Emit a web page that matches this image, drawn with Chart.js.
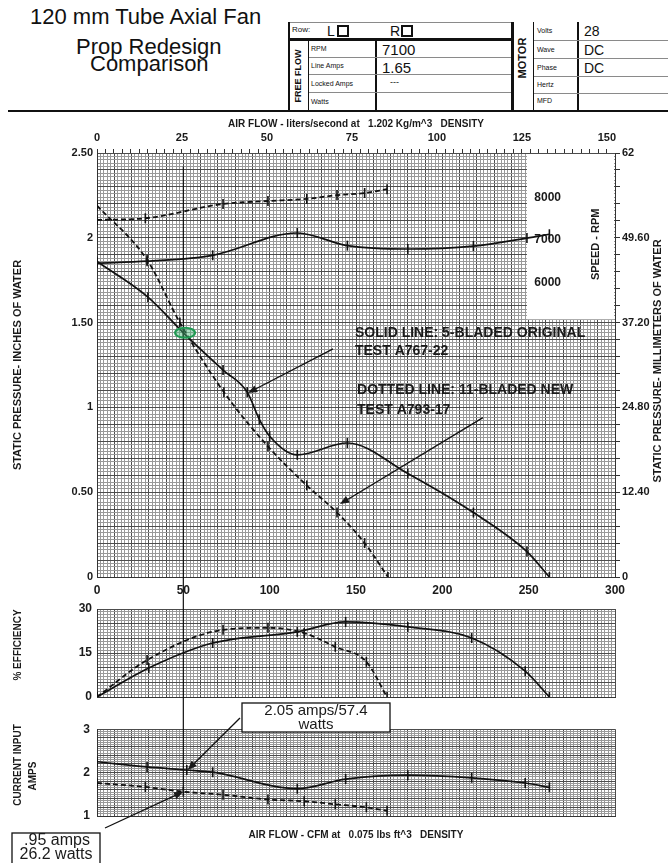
<!DOCTYPE html>
<html>
<head>
<meta charset="utf-8">
<script src="https://cdn.jsdelivr.net/npm/chart.js@4.4.1/dist/chart.umd.min.js"></script>
<style>
body{margin:0;background:#fff;font-family:"Liberation Sans",Arial,sans-serif;color:#111}
#page{position:relative;width:668px;height:863px;overflow:hidden;background:#fff}
canvas{position:absolute;left:0}
.t{position:absolute;white-space:nowrap;line-height:1}
.ln{position:absolute;background:#111}
.lt{position:absolute;background:#8a8a8a}
.rot{position:absolute;white-space:nowrap;line-height:1;transform:translate(-50%,-50%) rotate(-90deg);font-weight:bold}
.sq{position:absolute;width:8px;height:8px;border:2px solid #111}
</style>
</head>
<body>
<div id="page">

  <!-- title block -->
  <div class="t" style="left:30px;top:6px;font-size:22px">120 mm Tube Axial Fan</div>
  <div class="t" style="left:76px;top:36px;font-size:22px">Prop Redesign</div>
  <div class="t" style="left:90px;top:53px;font-size:22px">Comparison</div>

  <!-- data table -->
  <div class="lt" style="left:288px;top:22px;width:224px;height:1px"></div>
  <div class="ln" style="left:288px;top:38px;width:224px;height:3px"></div>
  <div class="ln" style="left:288px;top:22px;width:2px;height:89px"></div>
  <div class="ln" style="left:308px;top:40px;width:1px;height:71px"></div>
  <div class="ln" style="left:375px;top:40px;width:2px;height:71px"></div>
  <div class="lt" style="left:309px;top:57px;width:203px;height:1px"></div>
  <div class="lt" style="left:309px;top:74px;width:203px;height:1px"></div>
  <div class="lt" style="left:309px;top:92px;width:203px;height:1px"></div>
  <div class="ln" style="left:511px;top:22px;width:3px;height:89px"></div>
  <div class="ln" style="left:533px;top:22px;width:1px;height:89px"></div>
  <div class="ln" style="left:577px;top:22px;width:2px;height:89px"></div>
  <div class="lt" style="left:534px;top:40px;width:134px;height:1px"></div>
  <div class="lt" style="left:534px;top:58px;width:134px;height:1px"></div>
  <div class="lt" style="left:534px;top:76px;width:134px;height:1px"></div>
  <div class="lt" style="left:534px;top:93px;width:134px;height:1px"></div>
  <div class="ln" style="left:8px;top:110px;width:660px;height:2px"></div>

  <div class="t" style="left:292px;top:26px;font-size:8px">Row:</div>
  <div class="t" style="left:327px;top:24px;font-size:14px">L</div>
  <div class="sq" style="left:337px;top:25px"></div>
  <div class="t" style="left:390px;top:24px;font-size:14px">R</div>
  <div class="sq" style="left:401px;top:25px"></div>
  <div class="rot" style="left:298px;top:76px;font-size:9px">FREE FLOW</div>
  <div class="t" style="left:311px;top:45px;font-size:7px">RPM</div>
  <div class="t" style="left:311px;top:62px;font-size:7px">Line Amps</div>
  <div class="t" style="left:311px;top:80px;font-size:7px">Locked Amps</div>
  <div class="t" style="left:311px;top:98px;font-size:7px">Watts</div>
  <div class="t" style="left:382px;top:42px;font-size:15px">7100</div>
  <div class="t" style="left:382px;top:60px;font-size:15px">1.65</div>
  <div class="t" style="left:390px;top:78px;font-size:9px">---</div>

  <div class="rot" style="left:522px;top:58px;font-size:11px">MOTOR</div>
  <div class="t" style="left:537px;top:27px;font-size:7px">Volts</div>
  <div class="t" style="left:537px;top:46px;font-size:7px">Wave</div>
  <div class="t" style="left:537px;top:64px;font-size:7px">Phase</div>
  <div class="t" style="left:537px;top:81px;font-size:7px">Hertz</div>
  <div class="t" style="left:537px;top:97px;font-size:7px">MFD</div>
  <div class="t" style="left:584px;top:24px;font-size:14px">28</div>
  <div class="t" style="left:584px;top:43px;font-size:14px">DC</div>
  <div class="t" style="left:584px;top:61px;font-size:14px">DC</div>

  <canvas id="effChart" width="668" height="120" style="top:590px"></canvas>
  <canvas id="ampChart" width="668" height="120" style="top:715px"></canvas>
  <canvas id="mainChart" width="668" height="752" style="top:111px"></canvas>
</div>

<script>
/* =========================
   DATA
========================= */
// static pressure, inches of water
const origPressCfm = [0, 29.5, 50, 73, 87, 94, 100, 116, 145, 180, 218, 249, 262]
const origPressIn  = [1.86, 1.65, 1.44, 1.22, 1.09, 0.93, 0.83, 0.72, 0.79, 0.61, 0.38, 0.15, 0]
const newPressCfm  = [0, 29, 48, 73.5, 99, 121.5, 139, 155, 168.5]
const newPressIn   = [2.19, 1.87, 1.50, 1.09, 0.77, 0.54, 0.38, 0.20, 0]

// fan speed, rpm
const origRpmCfm = [0, 29, 67, 116, 145, 180, 218, 249, 262]
const origRpm    = [6450, 6500, 6640, 7170, 6870, 6790, 6860, 7050, 7140]
const newRpmCfm  = [0, 28, 73, 99, 121.5, 139, 155, 168]
const newRpm     = [7480, 7520, 7860, 7930, 7980, 8070, 8120, 8210]

// efficiency, %
const origEffCfm = [0, 30, 67, 116, 144, 180, 217, 248, 262]
const origEff    = [0, 9.9, 18.4, 22.2, 25.6, 23.9, 20.1, 8.8, 0]
const newEffCfm  = [0, 29, 73, 99, 120, 138, 156, 168]
const newEff     = [0, 12.6, 22.9, 23.6, 21.8, 17.1, 12, 0]

// current input, amps
const origAmpCfm = [0, 29, 52, 67, 116, 144, 180, 217, 248, 262]
const origAmps   = [2.25, 2.13, 2.06, 2.01, 1.63, 1.85, 1.94, 1.88, 1.76, 1.66]
const newAmpCfm  = [0, 28, 50, 73, 99, 120, 138, 156, 168]
const newAmps    = [1.76, 1.67, 1.56, 1.49, 1.38, 1.34, 1.27, 1.2, 1.12]

// tick labels
const cfmLabels  = [0, 50, 100, 150, 200, 250, 300]
const lpsLabels  = [0, 25, 50, 75, 100, 125, 150]
const inchLabels = [0, 0.5, 1, 1.5, 2, 2.5]
const mmLabels   = [0, 12.4, 24.8, 37.2, 49.6, 62]
const rpmLabels  = [6000, 7000, 8000]
const effLabels  = [0, 15, 30]
const ampLabels  = [1, 2, 3]

/* =========================
   HELPERS
========================= */
const FONT = '"Liberation Sans", Arial, sans-serif'
Chart.defaults.font.family = FONT
Chart.defaults.color = '#1a1a1a'
Chart.defaults.animation = false

const MINOR = '#999999'
const MAJOR = '#4c4c4c'

function near(list, v){
  return list.some(t => Math.abs(t - v) < 1e-6)
}

function paperGrid(major){
  return {
    color: c => (c.index % major === 0 ? MAJOR : MINOR),
    lineWidth: 1,
    drawTicks: false
  }
}

function cfmAxis(showLabels){
  return {
    type: 'linear', min: 0, max: 300,
    grid: paperGrid(5),
    border: { color: '#333' },
    ticks: {
      stepSize: 2, autoSkip: false, maxRotation: 0, minRotation: 0,
      display: showLabels, padding: 6,
      font: { size: 12, weight: 'bold' },
      callback: v => near(cfmLabels, v) ? String(v) : ''
    },
    afterFit: s => { s.height = showLabels ? 20 : 0 }
  }
}

function curve(label, xs, ys, axis, dashed){
  return {
    label,
    data: xs.map((x, i) => ({ x, y: ys[i] })),
    yAxisID: axis,
    borderColor: '#111',
    borderWidth: dashed ? 1.8 : 1.7,
    borderDash: dashed ? [5, 3] : [],
    cubicInterpolationMode: 'monotone',
    pointStyle: 'line',
    pointRotation: 90,
    pointRadius: 5,
    pointBorderWidth: 1.6,
    pointBorderColor: '#111',
    fill: false
  }
}

function rotText(ctx, txt, x, y, font){
  ctx.save()
  ctx.translate(x, y)
  ctx.rotate(-Math.PI / 2)
  ctx.font = font + ' ' + FONT
  ctx.textAlign = 'center'
  ctx.textBaseline = 'middle'
  ctx.fillText(txt, 0, 0)
  ctx.restore()
}

function arrow(ctx, x1, y1, x2, y2){
  const ang = Math.atan2(y2 - y1, x2 - x1)
  const h = 10
  ctx.beginPath()
  ctx.moveTo(x1, y1)
  ctx.lineTo(x2 - Math.cos(ang) * h * 0.7, y2 - Math.sin(ang) * h * 0.7)
  ctx.stroke()
  ctx.beginPath()
  ctx.moveTo(x2, y2)
  ctx.lineTo(x2 - h * Math.cos(ang - 0.38), y2 - h * Math.sin(ang - 0.38))
  ctx.lineTo(x2 - h * Math.cos(ang + 0.38), y2 - h * Math.sin(ang + 0.38))
  ctx.closePath()
  ctx.fill()
}

function sideTitles(lines){
  return {
    id: 'sideTitles',
    afterDraw(chart){
      const ctx = chart.ctx
      ctx.fillStyle = '#1a1a1a'
      lines.forEach(l => rotText(ctx, l.text, l.x, l.y, 'bold 10px'))
    }
  }
}

const baseOpts = {
  responsive: false,
  plugins: { legend: { display: false }, tooltip: { enabled: false } }
}

/* =========================
   EFFICIENCY PANEL
========================= */
const effChart = new Chart(document.getElementById('effChart'), {
  type: 'line',
  data: { datasets: [
    curve('5-bladed original', origEffCfm, origEff, 'y', false),
    curve('11-bladed new', newEffCfm, newEff, 'y', true)
  ]},
  options: {
    ...baseOpts,
    layout: { padding: { left: 57, right: 53, top: 19, bottom: 13 } },
    scales: {
      x: cfmAxis(false),
      y: {
        type: 'linear', min: 0, max: 30,
        grid: paperGrid(5),
        border: { color: '#333' },
        ticks: { stepSize: 1, autoSkip: false, padding: 5, font: { size: 12, weight: 'bold' },
          callback: v => near(effLabels, v) ? String(v) : '' },
        afterFit: s => { s.width = 40 }
      }
    }
  },
  plugins: [sideTitles([{ text: '% EFFICIENCY', x: 18, y: 55 }])]
})

/* =========================
   CURRENT PANEL
========================= */
const ampChart = new Chart(document.getElementById('ampChart'), {
  type: 'line',
  data: { datasets: [
    curve('5-bladed original', origAmpCfm, origAmps, 'y', false),
    curve('11-bladed new', newAmpCfm, newAmps, 'y', true)
  ]},
  options: {
    ...baseOpts,
    layout: { padding: { left: 57, right: 53, top: 13, bottom: 19 } },
    scales: {
      x: cfmAxis(false),
      y: {
        type: 'linear', min: 1, max: 3,
        grid: paperGrid(4),
        border: { color: '#333' },
        ticks: { stepSize: 0.05, autoSkip: false, padding: 7, font: { size: 12, weight: 'bold' },
          callback: v => near(ampLabels, v) ? String(v) : '' },
        afterFit: s => { s.width = 40 }
      }
    }
  },
  plugins: [sideTitles([
    { text: 'CURRENT INPUT', x: 18, y: 50 },
    { text: 'AMPS', x: 33, y: 61 }
  ])]
})

/* =========================
   MAIN PANEL NOTES
========================= */
const MAIN_TOP = 111
const AMP_TOP = 715

const notes = {
  id: 'notes',
  beforeDatasetsDraw(chart){
    const { ctx, chartArea: a, scales: { x, y, rpm } } = chart
    ctx.save()
    // blank inset that carries the speed scale
    const bx = x.getPixelForValue(249)
    const by = y.getPixelForValue(1.52)
    ctx.fillStyle = '#fff'
    ctx.fillRect(bx, a.top + 1, a.right - 1 - bx, by - a.top - 1)

    ctx.fillStyle = '#1a1a1a'
    ctx.font = 'bold 12px ' + FONT
    ctx.textAlign = 'center'
    ctx.textBaseline = 'middle'
    rpmLabels.forEach(v => ctx.fillText(String(v), x.getPixelForValue(261), rpm.getPixelForValue(v)))
    rotText(ctx, 'SPEED - RPM', x.getPixelForValue(289), rpm.getPixelForValue(6900), 'bold 11px')
    ctx.restore()
  },
  afterDraw(chart){
    const { ctx, chartArea: a, scales: { x, y } } = chart
    const ampY = v => ampChart.scales.y.getPixelForValue(v) + AMP_TOP - MAIN_TOP
    ctx.save()
    ctx.fillStyle = '#1a1a1a'
    ctx.strokeStyle = '#111'

    // axis titles
    ctx.font = 'bold 10px ' + FONT
    ctx.textAlign = 'center'
    ctx.textBaseline = 'middle'
    ctx.fillText('AIR FLOW - liters/second at   1.202 Kg/m^3   DENSITY', (a.left + a.right) / 2, 13)
    ctx.fillText('AIR FLOW - CFM at   0.075 lbs ft^3   DENSITY', (a.left + a.right) / 2, 835 - MAIN_TOP)
    rotText(ctx, 'STATIC PRESSURE- INCHES OF WATER', 18, (a.top + a.bottom) / 2, 'bold 11px')
    rotText(ctx, 'STATIC PRESSURE- MILLIMETERS OF WATER', 658, (a.top + a.bottom) / 2 - 4, 'bold 11px')

    // curve keys
    ctx.font = 'bold 14px ' + FONT
    ctx.textAlign = 'left'
    ctx.fillText('SOLID LINE: 5-BLADED ORIGINAL', x.getPixelForValue(149.4), y.getPixelForValue(1.44))
    ctx.fillText('TEST A767-22', x.getPixelForValue(149.4), y.getPixelForValue(1.33))
    ctx.fillText('DOTTED LINE: 11-BLADED NEW', x.getPixelForValue(150.6), y.getPixelForValue(1.10))
    ctx.fillText('TEST A793-17', x.getPixelForValue(150.6), y.getPixelForValue(0.985))

    ctx.lineWidth = 1.3
    arrow(ctx, x.getPixelForValue(136.7), y.getPixelForValue(1.345), x.getPixelForValue(87.4), y.getPixelForValue(1.085))
    arrow(ctx, x.getPixelForValue(223.5), y.getPixelForValue(0.94), x.getPixelForValue(140.7), y.getPixelForValue(0.43))

    // 50 CFM reference line
    const x50 = x.getPixelForValue(50)
    ctx.lineWidth = 1.2
    ctx.beginPath()
    ctx.moveTo(x50, y.getPixelForValue(2.42))
    ctx.lineTo(x50, ampY(1.56))
    ctx.stroke()

    // green marker where the curves meet
    ctx.beginPath()
    ctx.ellipse(x.getPixelForValue(51), y.getPixelForValue(1.44), 10, 5, 0, 0, Math.PI * 2)
    ctx.fillStyle = 'rgba(70,185,120,0.45)'
    ctx.fill()
    ctx.strokeStyle = '#1f9a52'
    ctx.lineWidth = 2
    ctx.stroke()

    // current call-outs
    ctx.strokeStyle = '#111'
    ctx.fillStyle = '#fff'
    ctx.lineWidth = 1.3
    ctx.fillRect(242, 703 - MAIN_TOP, 148, 29)
    ctx.strokeRect(242, 703 - MAIN_TOP, 148, 29)
    ctx.fillRect(12, 833 - MAIN_TOP, 88, 34)
    ctx.strokeRect(12, 833 - MAIN_TOP, 88, 34)

    ctx.fillStyle = '#1a1a1a'
    ctx.textAlign = 'center'
    ctx.font = '15px ' + FONT
    ctx.fillText('2.05 amps/57.4', 316, 711 - MAIN_TOP)
    ctx.fillText('watts', 316, 725 - MAIN_TOP)
    ctx.font = '16px ' + FONT
    ctx.fillText('.95 amps', 57, 841 - MAIN_TOP)
    ctx.fillText('26.2 watts', 56, 855 - MAIN_TOP)

    ctx.lineWidth = 1.3
    arrow(ctx, 240, 718 - MAIN_TOP, x.getPixelForValue(52.5), ampY(2.06))
    arrow(ctx, 105, 828 - MAIN_TOP, x.getPixelForValue(50), ampY(1.56))
    ctx.restore()
  }
}

/* =========================
   MAIN PANEL
========================= */
const mainChart = new Chart(document.getElementById('mainChart'), {
  type: 'line',
  data: { datasets: [
    curve('pressure 5-bladed', origPressCfm, origPressIn, 'y', false),
    curve('pressure 11-bladed', newPressCfm, newPressIn, 'y', true),
    curve('speed 5-bladed', origRpmCfm, origRpm, 'rpm', false),
    curve('speed 11-bladed', newRpmCfm, newRpm, 'rpm', true)
  ]},
  options: {
    ...baseOpts,
    layout: { padding: { left: 57, right: 13, top: 22, bottom: 266 } },
    scales: {
      x: cfmAxis(true),
      lps: {
        type: 'linear', axis: 'x', position: 'top', min: 0, max: 152.4,
        grid: { drawOnChartArea: false, drawTicks: true, tickLength: 4, color: '#333' },
        border: { display: false },
        ticks: { stepSize: 2.5, includeBounds: false, autoSkip: false, maxRotation: 0, minRotation: 0, padding: 4,
          font: { size: 11, weight: 'bold' },
          callback: v => near(lpsLabels, v) ? String(v) : '' },
        afterFit: s => { s.height = 20 }
      },
      y: {
        type: 'linear', position: 'left', min: 0, max: 2.5,
        grid: paperGrid(5),
        border: { color: '#333' },
        ticks: { stepSize: 0.02, autoSkip: false, padding: 4, font: { size: 11, weight: 'bold' },
          callback: v => near(inchLabels, v) ? (v % 1 === 0 ? String(v) : v.toFixed(2)) : '' },
        afterFit: s => { s.width = 40 }
      },
      mm: {
        type: 'linear', axis: 'y', position: 'right', min: 0, max: 62,
        grid: { drawOnChartArea: false, drawTicks: true, tickLength: 5, color: '#333' },
        border: { color: '#333' },
        ticks: { stepSize: 2.48, autoSkip: false, padding: 2, font: { size: 11, weight: 'bold' },
          callback: v => near(mmLabels, v) ? ((v === 0 || v === 62) ? String(v) : v.toFixed(2)) : '' },
        afterFit: s => { s.width = 40 }
      },
      rpm: { type: 'linear', axis: 'y', position: 'right', display: false, min: -1000, max: 9070 }
    }
  },
  plugins: [notes]
})
</script>
</body>
</html>
